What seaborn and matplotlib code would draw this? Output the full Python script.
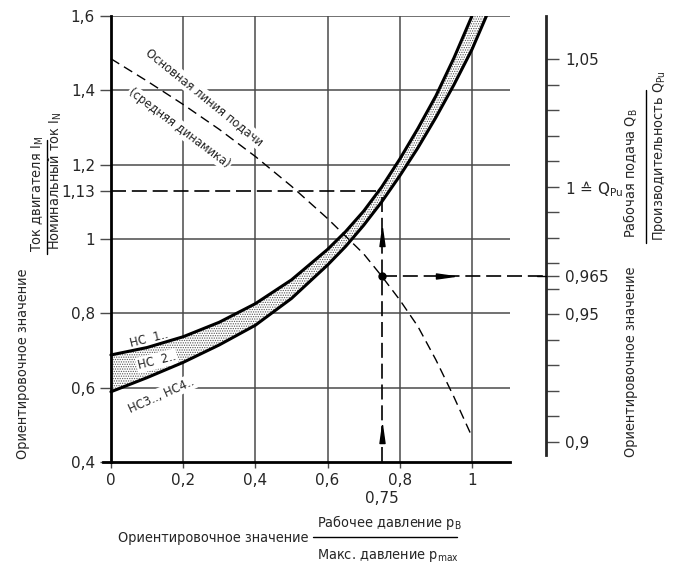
import numpy as np
import matplotlib
matplotlib.use('Agg')
import matplotlib.pyplot as plt
from matplotlib import font_manager as fm
from matplotlib.lines import Line2D
import seaborn as sns

# --- values ---
hc1_x = [0, 0.1, 0.2, 0.3, 0.4, 0.5, 0.6, 0.65, 0.7, 0.75, 0.8, 0.85, 0.9, 0.95, 1.0]
hc1_y = [0.688, 0.708, 0.737, 0.776, 0.826, 0.89, 0.972, 1.02, 1.075, 1.14, 1.215, 1.297, 1.385, 1.487, 1.6]
hc34_x = [0, 0.1, 0.2, 0.3, 0.4, 0.5, 0.6, 0.65, 0.7, 0.75, 0.8, 0.85, 0.9, 0.95, 1.0, 1.04]
hc34_y = [0.589, 0.627, 0.668, 0.715, 0.768, 0.84, 0.93, 0.98, 1.037, 1.1, 1.17, 1.245, 1.327, 1.415, 1.51, 1.6]
feed_x = [0, 0.1, 0.2, 0.3, 0.4, 0.5, 0.6, 0.7, 0.75, 0.8, 0.85, 0.9, 0.95, 1.0]
feed_y = [1.485, 1.425, 1.362, 1.295, 1.222, 1.142, 1.055, 0.96, 0.9, 0.836, 0.765, 0.675, 0.575, 0.468]

x_ticks = [0, 0.2, 0.4, 0.6, 0.8, 1.0]
x_labels = ['0', '0,2', '0,4', '0,6', '0,8', '1']
y_ticks = [0.4, 0.6, 0.8, 1.0, 1.13, 1.2, 1.4, 1.6]
y_labels = ['0,4', '0,6', '0,8', '1', '1,13', '1,2', '1,4', '1,6']
q_ticks = [0.9, 0.95, 0.965, 1.0, 1.05]
q_labels = ['0,9', '0,95', '0,965', '1 \u2259 Q$_{\\mathregular{Pu}}$', '1,05']
q_minor = [0.91, 0.92, 0.93, 0.94, 0.96, 0.97, 0.98, 0.99, 1.01, 1.02, 1.03, 1.04]

# worked example
p_ratio = 0.75
i_ratio = 1.13
q_point = 0.965
i_point = 0.9

# right scale: Q ratio <-> current ratio
Q_REF_Y = 1.14
Q_SCALE = 6.86

def to_q(y):
    return 1 + (np.asarray(y) - Q_REF_Y) / Q_SCALE

def to_y(q):
    return Q_REF_Y + (np.asarray(q) - 1) * Q_SCALE

# --- style ---
sns.set_style('white')
plt.rcParams['font.family'] = ['DejaVu Sans']
plt.rcParams['hatch.linewidth'] = 0.6

# a condensed face for the captions, if one is installed
cond = [f for f in fm.fontManager.ttflist
        if ('condensed' in str(f.stretch).lower() or 'Condensed' in f.fname
            or 'Narrow' in f.name)
        and f.weight in (400, 'normal', 'regular') and f.style == 'normal']
cond.sort(key=lambda f: ('DejaVu' not in f.fname, f.fname))
if cond:
    CAP_FILE = cond[0].fname
    CAP_SIZE = 10.4
else:
    CAP_FILE = None
    CAP_SIZE = 9.2

def cap(size=None):
    size = size or CAP_SIZE
    if CAP_FILE:
        return fm.FontProperties(fname=CAP_FILE, size=size)
    return fm.FontProperties(family='DejaVu Sans', size=size)

W, H = 675, 565

def fpos(px, py):
    return px / W, 1 - py / H

fig = plt.figure(figsize=(6.75, 5.65), dpi=100)
ax = fig.add_axes([103 / W, 1 - 462 / H, 443 / W, 446 / H])
ax.set_xlim(-0.022, 1.205)
ax.set_ylim(0.4, 1.6)

GRID = '#4a4a4a'
ax.hlines([0.6, 0.8, 1.0, 1.2, 1.4, 1.6], 0, 1.105, color=GRID, lw=1.1, zorder=1)
ax.vlines([0.2, 0.4, 0.6, 0.8, 1.0], 0.4, 1.6, color=GRID, lw=1.1, zorder=1)

# band between the two pump curves
ax.fill(hc1_x + hc34_x[::-1], hc1_y + hc34_y[::-1], facecolor='white',
        edgecolor='#555555', hatch='.......', lw=0, zorder=2)
sns.lineplot(x=hc1_x, y=hc1_y, ax=ax, color='black', lw=2.2, zorder=5)
sns.lineplot(x=hc34_x, y=hc34_y, ax=ax, color='black', lw=2.2, zorder=5)
sns.lineplot(x=feed_x, y=feed_y, ax=ax, color='black', lw=1.0,
             linestyle=(0, (7, 4)), zorder=4)

# guide lines of the example
gdash = (0, (9, 3.5))
ax.plot([0, p_ratio], [i_ratio, i_ratio], color='black', lw=1.2, ls=gdash, zorder=4)
ax.plot([p_ratio, p_ratio], [0.4, i_ratio], color='black', lw=1.2, ls=gdash, zorder=4)
ax.plot([p_ratio, 1.205], [i_point, i_point], color='black', lw=1.2, ls=gdash,
        zorder=4, clip_on=False)
ax.plot(p_ratio, i_point, 'o', color='black', ms=5, zorder=6)
up = [(0, 1), (-0.28, -1), (0.28, -1), (0, 1)]
right = [(1, 0), (-1, 0.28), (-1, -0.28), (1, 0)]
ax.plot([p_ratio, p_ratio], [0.475, 1.005], ls='none', marker=up, ms=13,
        color='black', zorder=6)
ax.plot(0.925, i_point, ls='none', marker=right, ms=13, color='black', zorder=6)

# spines and ticks
for s in ['top', 'right']:
    ax.spines[s].set_visible(False)
ax.spines['left'].set_position(('data', 0))
ax.spines['left'].set_bounds(0.4, 1.6)
ax.spines['bottom'].set_bounds(-0.022, 1.105)
for s in ['left', 'bottom']:
    ax.spines[s].set_linewidth(2)
    ax.spines[s].set_color('black')

TICK_SIZE = 11
ax.set_yticks(y_ticks, labels=y_labels)
ax.set_xticks(x_ticks, labels=x_labels)
ax.set_xticks([p_ratio], labels=['0,75'], minor=True)
ax.tick_params(axis='y', direction='out', length=8, width=1, pad=3.5,
               labelsize=TICK_SIZE, color=GRID, left=True)
ax.tick_params(axis='x', which='major', direction='out', length=4, width=1,
               pad=4, labelsize=TICK_SIZE, color=GRID, bottom=True)
ax.tick_params(axis='x', which='minor', length=0, pad=21, labelsize=TICK_SIZE)

sec = ax.secondary_yaxis('right', functions=(to_q, to_y))
sec.set_yticks(q_ticks, labels=q_labels)
sec.set_yticks(q_minor, minor=True)
sec.spines['right'].set_bounds(0.895, 1.067)
sec.spines['right'].set_linewidth(2)
sec.tick_params(which='both', direction='out', length=9, width=1, pad=5,
                labelsize=TICK_SIZE, color=GRID)
ax.plot([1.18, 1.205], [i_point, i_point], color='black', lw=1, clip_on=False)

# curve annotations
box = dict(facecolor='white', edgecolor='none', pad=1)
lab = dict(fontproperties=cap(9.3), ha='center', va='center',
           rotation_mode='anchor', bbox=box, zorder=3)
ax.text(0.258, 1.382, 'Основная линия подачи', rotation=-39, **lab)
ax.text(0.19, 1.298, '(средняя динамика)', rotation=-37, **lab)
ax.text(0.105, 0.731, 'HC  1..', rotation=14, **lab)
ax.text(0.127, 0.672, 'HC  2..', rotation=14, **lab)
ax.text(0.139, 0.58, 'HC3.., HC4..', rotation=24, **lab)

# axis titles with fractions
def frac_line(x0, y0, x1, y1):
    (a, b), (c, d) = fpos(x0, y0), fpos(x1, y1)
    fig.add_artist(Line2D([a, c], [b, d], transform=fig.transFigure,
                          color='black', lw=1))

tk = dict(fontproperties=cap())

# bottom
fig.text(*fpos(213, 538), 'Ориентировочное значение', ha='center', va='center', **tk)
fig.text(*fpos(317, 522), 'Рабочее давление p$_\\mathregular{B}$', ha='left', va='center', **tk)
fig.text(*fpos(317, 555), 'Макс. давление p$_\\mathregular{max}$', ha='left', va='center', **tk)
frac_line(313, 537, 457, 537)

# left
fig.text(*fpos(23, 364), 'Ориентировочное значение', rotation=90, ha='center', va='center', **tk)
fig.text(*fpos(38, 252), 'Ток двигателя I$_\\mathregular{M}$', rotation=90, ha='center', va='bottom', **tk)
fig.text(*fpos(55, 250), 'Номинальный ток I$_\\mathregular{N}$', rotation=90, ha='center', va='bottom', **tk)
frac_line(47, 140, 47, 254)

# right
fig.text(*fpos(631, 362), 'Ориентировочное значение', rotation=90, ha='center', va='center', **tk)
fig.text(*fpos(631, 238), 'Рабочая подача Q$_\\mathregular{B}$', rotation=90, ha='center', va='bottom', **tk)
fig.text(*fpos(660, 241), 'Производительность Q$_\\mathregular{Pu}$', rotation=90, ha='center', va='bottom', **tk)
frac_line(646, 90, 646, 243)

fig.savefig('out.png', dpi=100)
